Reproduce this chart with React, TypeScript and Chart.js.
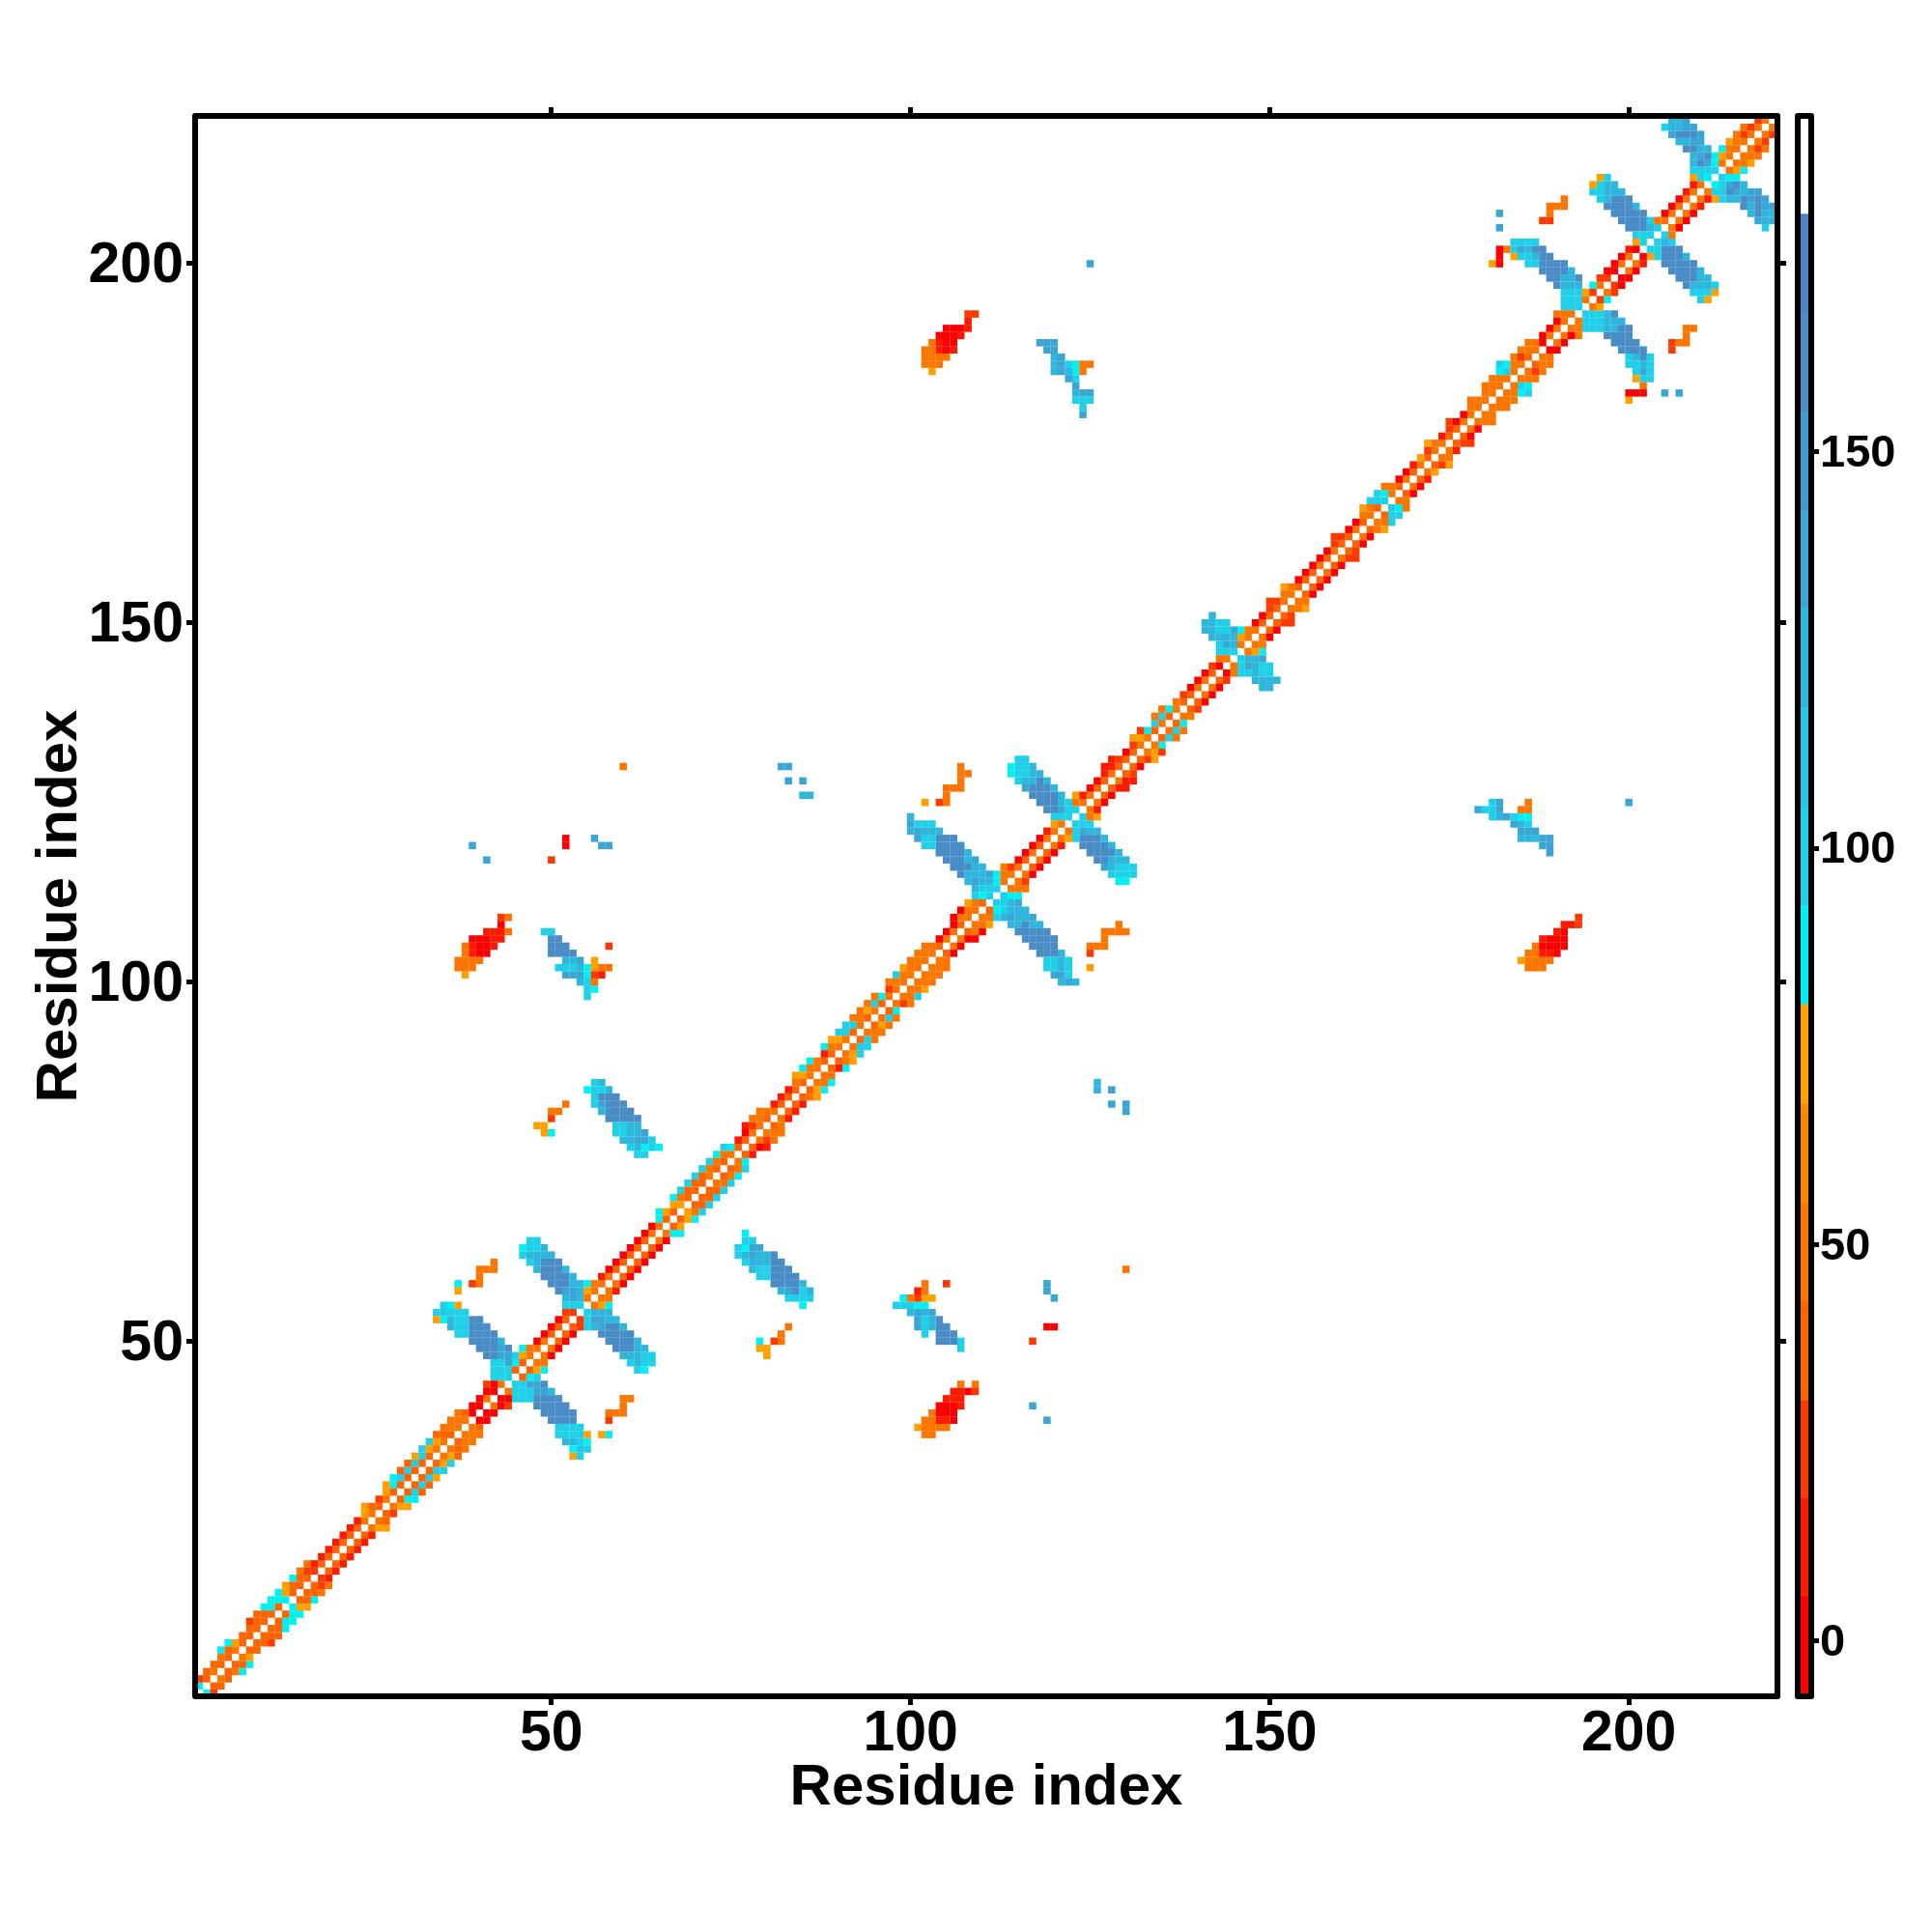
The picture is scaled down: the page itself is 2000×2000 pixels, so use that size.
import React, { useEffect, useRef } from "react";
import { Chart, registerables } from "chart.js";

Chart.register(...registerables);

// Colour-bar bins: edges and colours, bottom to top.
const binEdges = [-7, 5.6, 18, 30.4, 42.9, 55.3, 67.8, 80.3, 92.8, 105.4, 117.8, 130.3, 142.7, 155.1, 167.6, 180, 192.5];
const binColors = ["#fa0000", "#fb1c00", "#fb3a00", "#fb6400", "#fb7600", "#fc8800", "#ffa000", "#00f0f4", "#20cfe8", "#24c6e4", "#2fb6dc", "#3aa6d4", "#3f9ccf", "#4a8cc6", "#4f84c4", "#ffffff"];
const xTicks = [50, 100, 150, 200];
const yTicks = [50, 100, 150, 200];
const barTicks = [0, 50, 100, 150];

// Letter key of the cell values (one value in each colour bin).
const valueKey: Record<string, number> = { R: 0, r: 12, e: 24, o: 36, O: 49, a: 61, A: 74, c: 86, C: 99, s: 111, S: 124, b: 136, t: 149, B: 161, U: 174 };

// Diagonals: [first residue, values]; "." = empty cell.
const offset1: [number, string][] = [
  [1, "coOooOoooo"], [11, "oocoooeooo"], [21, "oooOOoOooo"], [31, "oooOOoOORR"], [41, "ORORooOOOo"],
  [51, "ooeCOOOOoo"], [61, "oooOOooAoo"], [71, "oOooOooOOo"], [81, "OooooOOooO"], [91, "OoOoOoOOOO"],
  [101, "OOOoOOoOOo"], [111, "COOOOoOoOO"], [121, "OCoOOooOoo"], [131, "oOOoOoOooO"], [141, "OoROCOOOoo"],
  [151, "oOOoooOoOo"], [161, "oOoOoCOoOo"], [171, "OoOOooOOOO"], [181, "OOOOOoOROO"], [191, "OOCOeOeROO"],
  [201, "RCCCOOOOOO"], [211, "ccOOOOOOO"],
];
const offset2: [number, string][] = [
  [1, "eooOoAoooo"], [11, "ccAooerrrr"], [21, "rrrAoeAcCC"], [31, "CCAAoOOoRR"], [41, "RROOcAORRR"],
  [51, "ReOSAOrRRR"], [61, "RRRRcAAOoo"], [71, "oOOOcrReOO"], [81, "rrrOAOOrOA"], [91, "CCOACceOOO"],
  [101, "OOORRROOOc"], [111, "CcOeRRRRrA"], [121, "CCOrRRrreR"], [131, "eAcCCcOeRR"], [141, "ReOCSAORRe"],
  [151, "eOORRRRRee"], [161, "RROOCcORRr"], [171, "AeOreRROOO"], [181, "OOCOeOORRR"], [191, "OOOAceRRRr"],
  [201, "ACSORRRrrC"], [211, "CcAOOeee"],
];
const offset3: [number, string][] = [
  [1, "...cc..eoc"], [11, "ccAcOO...."], [21, "...A..Acoo"], [31, "ACCoOOO..."], [41, "e..eCc...."],
  [61, "....c.cCCC"], [71, "CCcC..rOO."], [81, "...Acc.cAC"], [91, "COOOO.OCAO"], [101, "OO...RRAC."],
  [111, "..O......."], [121, "..A...rr.."], [131, "Ae.OO....."], [141, ".........e"], [151, ".A......e."],
  [161, "..ACCO...."], [171, ".A..e..O.O"], [181, "OccOOO...O"], [201, "........A."], [211, "..cAOO"],
];

// Off-diagonal patches: [row, first column, values]; each also mirrored across the diagonal.
const strand34to44: [number, number, string][] = [
  [55, 35, "CcA"], [54, 34, "CsCCC"], [53, 34, "AcSCCBB"], [52, 36, "SCCBBB"], [51, 37, "CCBBBB"], [50, 39, "BBBBS"],
  [49, 40, "BBBbB"], [48, 41, "BBbbC"], [47, 42, "CCbc"], [46, 42, "CCC"], [45, 42, "CCC"],
  [58, 37, "c.eO"], [57, 37, "A"], [59, 40, "O"], [60, 40, "OOO"], [61, 42, "O"],
];
const strand46to54: [number, number, string][] = [
  [64, 47, "CC"], [63, 46, "cCCS"], [62, 46, "CSSSS"], [61, 47, "CSBBB"], [60, 48, "SBBBS"], [59, 49, "BBBBS"],
  [58, 50, "BBBSSc"], [57, 51, "BbbSA"], [56, 52, "SbS"], [55, 52, "CCC"],
];
const sheet55to65: [number, number, string][] = [
  [86, 56, "CS"], [85, 55, "cCCS"], [84, 56, "CBBB"], [83, 56, "CbBBB"], [82, 57, "SBBBB"], [81, 58, "BBBBB"],
  [80, 59, "CCSS"], [79, 59, "CCSSb"], [78, 60, "SSbbC"], [77, 61, "CScCc"], [76, 62, "CC"],
  [83, 52, "O"], [82, 50, "OO"], [81, 50, "e"], [80, 48, "AA"], [79, 49, "Ac"],
];
const patch105: [number, number, string][] = [
  [109, 43, "eO"], [108, 43, "R"], [107, 41, "rrrO"], [106, 39, "RRRrr"], [105, 38, "OrRRr"], [104, 38, "OrRR"],
  [103, 37, "OOOO"], [102, 37, "OOO"], [101, 38, "A"],
  [107, 49, "CC"], [106, 50, "BB"], [105, 50, "BBB"], [105, 58, "e"], [104, 50, "BBBB"], [103, 52, "SSb"], [103, 56, "A"],
  [102, 51, "CCCSc"], [102, 56, "AOO"], [101, 52, "bbbc"], [101, 56, "er"], [100, 54, "SC"], [100, 56, "O"],
  [99, 55, "Cc"], [98, 55, "C"],
];
const singles: [number, number, string][] = [
  [130, 60, "O"], [119, 39, "b"], [117, 41, "b"], [120, 52, "R"], [119, 52, "R"], [117, 50, "e"], [120, 56, "b"], [119, 57, "bb"],
  [130, 82, "bb"], [128, 83, "b.b"], [126, 85, "SS"], [125, 102, "A.eO"], [126, 105, "O"], [127, 105, "OOO"], [128, 107, "O"],
  [129, 107, "OO"], [130, 107, "O"], [200, 125, "b"], [207, 182, "b"], [205, 182, "b"], [206, 188, "ee"], [207, 189, "O"],
  [208, 189, "OOO"], [209, 191, "O"],
];
const cross112: [number, number, string][] = [
  [123, 100, "S"], [122, 100, "bCCC"], [121, 100, "SbSSS"], [120, 101, "bCCBBB"], [119, 102, "CCBBBB"], [118, 104, "BBBBS"],
  [117, 105, "BBBSb"], [116, 106, "BBBSS"], [115, 107, "BSSSbc"], [114, 108, "SbSSc"], [113, 109, "SCCC"], [112, 109, "CcC"],
];
const cross122: [number, number, string][] = [
  [131, 115, "CC"], [130, 114, "cCCS"], [129, 114, "cCCSS"], [128, 115, "CSSBS"], [127, 116, "bBBBS"], [126, 117, "BBBBS"],
  [125, 118, "BBBSC"], [124, 119, "BBbCC"], [123, 120, "CCC"],
];
const cross147: [number, number, string][] = [
  [151, 142, "S"], [150, 141, "SSCC"], [149, 141, "SSCCbc"], [148, 142, "SSSS"], [147, 143, "CbS"], [146, 143, "CCC"],
];
const patch190: [number, number, string][] = [
  [193, 108, "ee"], [192, 108, "r"], [191, 105, "RRRr"], [190, 104, "RRRr"], [189, 103, "OrRR"], [188, 102, "OOrRr"],
  [187, 102, "OOOO"], [186, 102, "OOO"], [185, 103, "A"],
  [189, 118, "bbb"], [188, 119, "bb"], [187, 120, "Sb"], [186, 120, "SbCcOO"], [185, 120, "SbScO"], [184, 122, "bC"],
  [183, 123, "b"], [182, 123, "Sbb"], [181, 123, "CCC"], [180, 124, "C"], [179, 124, "b"],
  [186, 182, "Cc"], [185, 182, "cC"],
];
const cross193: [number, number, string][] = [
  [203, 184, "CCCC"], [202, 182, "RO"], [202, 184, "CbSBB"], [201, 182, "R"], [201, 184, "ACCSBB"], [200, 181, "AR"],
  [200, 186, "CCBBBB"], [199, 188, "BBBBS"], [198, 189, "BBSSB"], [197, 190, "BSSS"], [196, 191, "CCC"], [195, 191, "CCC"], [194, 191, "CCC"],
];
const cross203: [number, number, string][] = [
  [212, 196, "AC"], [211, 195, "ACSS"], [210, 195, "CCSSS"], [209, 196, "CSBBB"], [208, 197, "BBBBS"], [207, 198, "BBBBB"],
  [206, 199, "BBBBC"], [205, 200, "BBBSC"], [204, 201, "CCC"], [203, 201, "AC"],
];
const cross212: [number, number, string][] = [
  [220, 206, "SSb"], [219, 205, "CSSbb"], [218, 206, "bBBBb"], [217, 207, "SSbb"], [216, 208, "BBSS"], [215, 209, "SbBc"],
  [214, 209, "SBbc"], [213, 209, "CCCC"], [212, 210, "Cc"],
];
const patches = [strand34to44, strand46to54, sheet55to65, patch105, singles, cross112, cross122, cross147, patch190, cross193, cross203, cross212];

type Cell = { x: number; y: number };

function buildDatasets() {
  const cells = new Map<string, [number, number, number]>();
  const diagonals: [number, [number, string][]][] = [[1, offset1], [2, offset2], [3, offset3]];
  diagonals.forEach(([d, runs]) =>
    runs.forEach(([start, text]) =>
      [...text].forEach((ch, k) => {
        const i = start + k;
        if (ch !== "." && i + d <= 220) cells.set(i + "," + (i + d), [i, i + d, valueKey[ch]]);
      })
    )
  );
  patches.forEach((list) =>
    list.forEach(([row, col, text]) =>
      [...text].forEach((ch, k) => {
        if (ch !== ".") cells.set(col + k + "," + row, [col + k, row, valueKey[ch]]);
      })
    )
  );
  const groups: Cell[][] = binColors.map(() => []);
  cells.forEach(([i, j, v]) => {
    let b = 0;
    while (b < binEdges.length - 2 && v >= binEdges[b + 1]) b++;
    groups[b].push({ x: i, y: j }, { x: j, y: i });
  });
  return groups.map((data, b) => ({
    data,
    pointStyle: "rect" as const,
    pointRadius: 5.35,
    pointHoverRadius: 5.35,
    pointBorderWidth: 0,
    pointBackgroundColor: binColors[b],
    showLine: false,
  }));
}

const font = (size: number) => ({ family: "'Liberation Sans', Arial, sans-serif", size, weight: "bold" as const });
const frame = {
  id: "frame",
  afterDraw(chart: any) {
    const { ctx, chartArea: a } = chart;
    ctx.save();
    ctx.strokeStyle = "#000";
    ctx.lineWidth = 6;
    ctx.lineJoin = "round";
    ctx.strokeRect(a.left - 3, a.top - 3, a.right - a.left + 6, a.bottom - a.top + 6);
    ctx.restore();
  },
};
const tickGrid = { display: true, drawOnChartArea: false, drawTicks: true, tickLength: 12, tickWidth: 5, tickColor: "#000" };
const fixTicks = (values: number[]) => (axis: any) => {
  axis.ticks = values.map((value) => ({ value }));
};

export default function App() {
  const mainRef = useRef<HTMLCanvasElement>(null);
  const barRef = useRef<HTMLCanvasElement>(null);
  useEffect(() => {
    const main = new Chart(mainRef.current!, {
      type: "scatter",
      data: { datasets: buildDatasets() as any },
      plugins: [frame],
      options: {
        animation: false,
        responsive: false,
        devicePixelRatio: 1,
        events: [],
        plugins: { legend: { display: false }, tooltip: { enabled: false } },
        layout: { padding: 0 },
        scales: {
          x: {
            type: "linear", position: "bottom", min: 0.8, max: 220.28,
            afterBuildTicks: fixTicks(xTicks),
            afterFit: (s: any) => { s.height = 247; },
            grid: tickGrid, border: { display: false },
            ticks: { font: font(59), color: "#000", padding: -5, maxRotation: 0, autoSkip: false },
            title: { display: true, text: "Residue index", font: font(60), color: "#000", padding: { top: 0, bottom: 113 } },
          },
          y: {
            type: "linear", position: "left", min: 0.97, max: 220.17,
            afterBuildTicks: fixTicks(yTicks),
            afterFit: (s: any) => { s.width = 205; },
            grid: tickGrid, border: { display: false },
            ticks: { font: font(59), color: "#000", padding: 3, labelOffset: 3, autoSkip: false },
            title: { display: true, text: "Residue index", font: font(60), color: "#000", padding: { top: 26, bottom: 0 } },
          },
          xTop: {
            type: "linear", position: "top", min: 0.8, max: 220.28,
            afterBuildTicks: fixTicks(xTicks),
            afterFit: (s: any) => { s.height = 123; },
            grid: tickGrid, border: { display: false }, ticks: { display: false },
          },
          yRight: {
            type: "linear", position: "right", min: 0.97, max: 220.17,
            afterBuildTicks: fixTicks(yTicks),
            afterFit: (s: any) => { s.width = 163; },
            grid: tickGrid, border: { display: false }, ticks: { display: false },
          },
        },
      } as any,
    });
    const bar = new Chart(barRef.current!, {
      type: "bar",
      data: {
        labels: [""],
        datasets: binColors.map((c, b) => ({
          data: [[binEdges[b], binEdges[b + 1]]] as any,
          backgroundColor: c,
          borderWidth: 0,
          barPercentage: 1,
          categoryPercentage: 1,
          grouped: false,
        })),
      },
      plugins: [frame],
      options: {
        animation: false,
        responsive: false,
        devicePixelRatio: 1,
        events: [],
        plugins: { legend: { display: false }, tooltip: { enabled: false } },
        layout: { padding: { left: 1864, top: 123, bottom: 247, right: 0 } },
        scales: {
          x: { display: false },
          y: {
            type: "linear", position: "right", min: -6.58, max: 192,
            afterBuildTicks: fixTicks(barTicks),
            afterFit: (s: any) => { s.width = 128; },
            grid: { ...tickGrid, tickLength: 11 }, border: { display: false },
            ticks: { font: font(47), color: "#000", padding: 1, labelOffset: 2, autoSkip: false },
          },
        },
      } as any,
    });
    return () => {
      main.destroy();
      bar.destroy();
    };
  }, []);
  const style: React.CSSProperties = { position: "absolute", left: 0, top: 0 };
  return (
    <div>
      <canvas ref={mainRef} width={2000} height={2000} style={style} />
      <canvas ref={barRef} width={2000} height={2000} style={style} />
    </div>
  );
}
